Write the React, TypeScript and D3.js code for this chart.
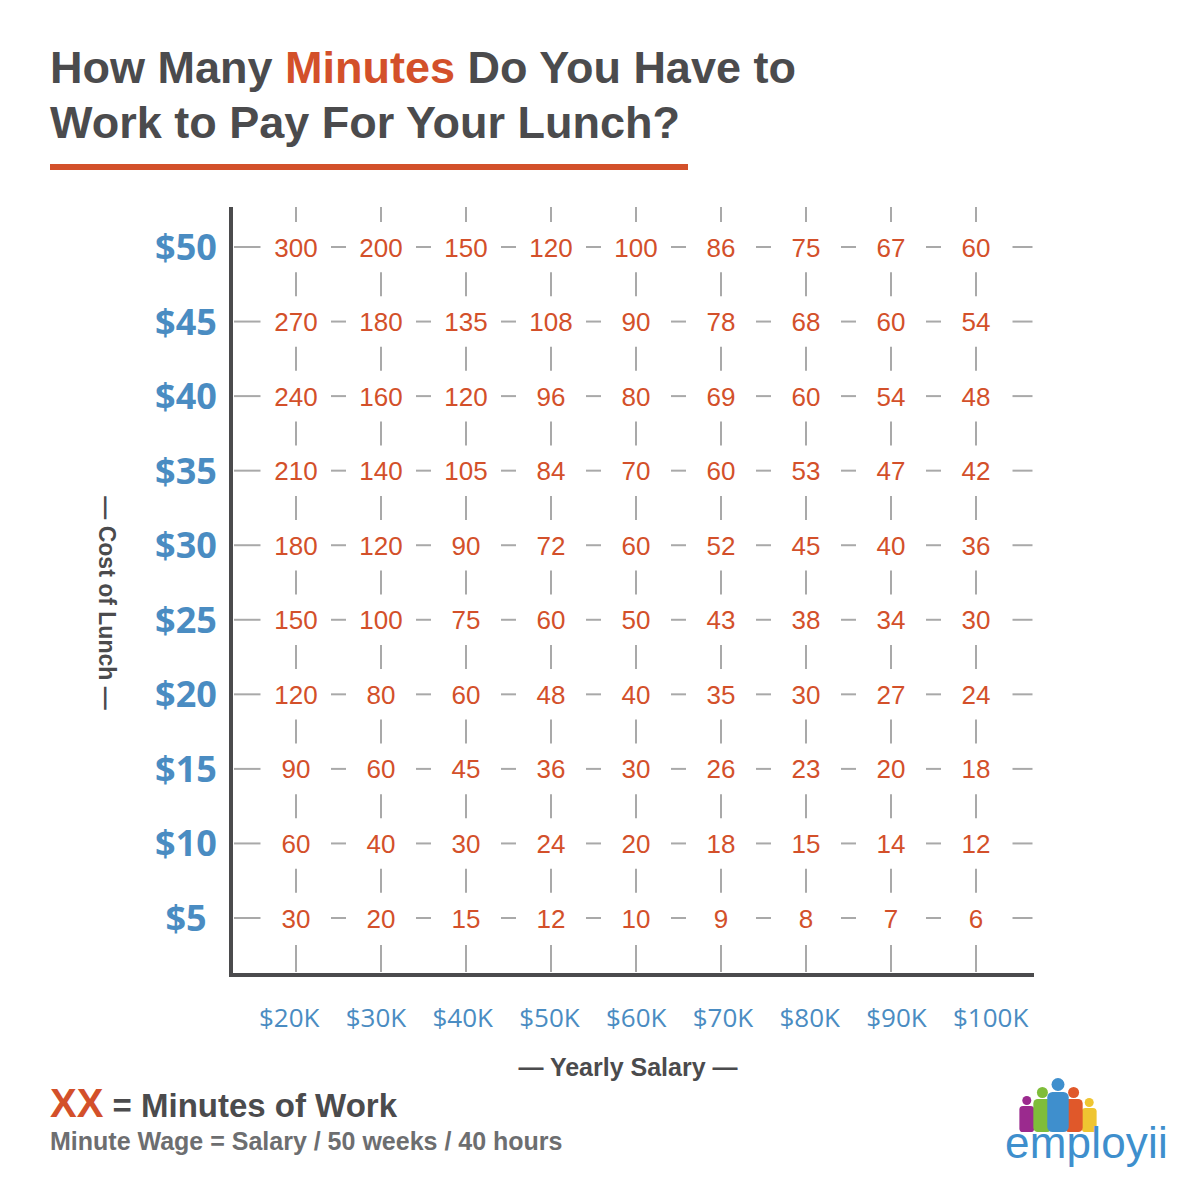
import React, { useEffect } from "react";
import * as d3 from "d3";

// chart values
const salaries = ["$20K", "$30K", "$40K", "$50K", "$60K", "$70K", "$80K", "$90K", "$100K"];
const lunchCosts = ["$50", "$45", "$40", "$35", "$30", "$25", "$20", "$15", "$10", "$5"];

const row50 = [300, 200, 150, 120, 100, 86, 75, 67, 60];
const row45 = [270, 180, 135, 108, 90, 78, 68, 60, 54];
const row40 = [240, 160, 120, 96, 80, 69, 60, 54, 48];
const row35 = [210, 140, 105, 84, 70, 60, 53, 47, 42];
const row30 = [180, 120, 90, 72, 60, 52, 45, 40, 36];
const row25 = [150, 100, 75, 60, 50, 43, 38, 34, 30];
const row20 = [120, 80, 60, 48, 40, 35, 30, 27, 24];
const row15 = [90, 60, 45, 36, 30, 26, 23, 20, 18];
const row10 = [60, 40, 30, 24, 20, 18, 15, 14, 12];
const row5 = [30, 20, 15, 12, 10, 9, 8, 7, 6];

const minutes = [row50, row45, row40, row35, row30, row25, row20, row15, row10, row5];

// logo people (colour, head radius, body height)
const people = [
  { color: "#9b2a8e", r: 4.5, h: 26 },
  { color: "#7fbd3a", r: 5.5, h: 33 },
  { color: "#3f8fcd", r: 6.5, h: 40 },
  { color: "#e0582a", r: 5.5, h: 33 },
  { color: "#efc531", r: 4.5, h: 24 },
];

const DARK = "#4b4b4d";
const ORANGE = "#d3502a";
const BLUE = "#4a8cc2";
const DASH = "#a9a9a9";
const SANS = "'Liberation Sans', Arial, Helvetica, sans-serif";

export default function App() {
  useEffect(() => {
    document.body.style.margin = "0";
  }, []);

  const x = d3.scalePoint<string>().domain(salaries).range([296, 976]);
  const y = d3.scalePoint<string>().domain(lunchCosts).range([247, 918]);
  // salary labels sit on their own slightly wider spacing, left aligned
  const xLabel = d3.scalePoint<string>().domain(salaries).range([259, 953]);
  const stepX = x.step();
  const stepY = y.step();

  const axisX = 231;
  const axisY = 975;
  const axisTop = 207;
  const axisRight = 1034;

  // horizontal dashes between columns, per row
  const hDashes: { x1: number; x2: number; y: number }[] = [];
  lunchCosts.forEach((c) => {
    const yy = y(c)!;
    salaries.forEach((s, i) => {
      const cx = x(s)! - stepX / 2;
      if (i === 0) hDashes.push({ x1: axisX + 3, x2: cx + 7, y: yy });
      else hDashes.push({ x1: cx - 7.5, x2: cx + 7.5, y: yy });
    });
    const last = x(salaries[salaries.length - 1])! + stepX / 2;
    hDashes.push({ x1: last - 6, x2: last + 14, y: yy });
  });

  // vertical dashes between rows, per column
  const vDashes: { x: number; y1: number; y2: number }[] = [];
  salaries.forEach((s) => {
    const xx = x(s)!;
    vDashes.push({ x: xx, y1: y(lunchCosts[0])! - 40, y2: y(lunchCosts[0])! - 25 });
    lunchCosts.forEach((c, i) => {
      if (i === 0) return;
      const mid = y(c)! - stepY / 2;
      vDashes.push({ x: xx, y1: mid - 12, y2: mid + 12 });
    });
    vDashes.push({ x: xx, y1: y(lunchCosts[lunchCosts.length - 1])! + 27, y2: axisY - 3 });
  });

  const logoX = d3.scaleBand<number>().domain(d3.range(people.length)).range([1019, 1097]).padding(0);

  return (
    <svg width={1200} height={1200} style={{ display: "block", background: "#fff" }} fontFamily={SANS}>
      <rect width={1200} height={1200} fill="#fff" />

      {/* title */}
      <text x={50} y={83} fontSize={45} fontWeight="bold" fill={DARK}>
        How Many <tspan fill={ORANGE}>Minutes</tspan> Do You Have to
      </text>
      <text x={50} y={138} fontSize={45} fontWeight="bold" fill={DARK}>
        Work to Pay For Your Lunch?
      </text>
      <rect x={50} y={164} width={638} height={6} fill={ORANGE} />

      {/* grid dashes */}
      <g stroke={DASH} strokeWidth={2}>
        {hDashes.map((d, i) => (
          <line key={"h" + i} x1={d.x1} x2={d.x2} y1={d.y} y2={d.y} />
        ))}
        {vDashes.map((d, i) => (
          <line key={"v" + i} x1={d.x} x2={d.x} y1={d.y1} y2={d.y2} />
        ))}
      </g>

      {/* axes */}
      <line x1={axisX} x2={axisX} y1={axisTop} y2={axisY + 2} stroke={DARK} strokeWidth={4} />
      <line x1={axisX - 2} x2={axisRight} y1={axisY} y2={axisY} stroke={DARK} strokeWidth={4} />

      {/* cell values */}
      <g fontSize={26} fill={ORANGE} textAnchor="middle">
        {minutes.map((row, ri) =>
          row.map((v, ci) => (
            <text key={ri + "-" + ci} x={x(salaries[ci])} y={y(lunchCosts[ri])! + 9.5}>
              {v}
            </text>
          ))
        )}
      </g>

      {/* y tick labels */}
      <g fontFamily="'Open Sans', sans-serif" fontWeight="bold" fontSize={36} fill={BLUE} textAnchor="middle">
        {lunchCosts.map((c) => (
          <text key={c} x={186} y={y(c)! + 13}>
            {c}
          </text>
        ))}
      </g>

      {/* x tick labels */}
      <g fontFamily="'Open Sans', sans-serif" fontSize={26} fill={BLUE} textAnchor="start">
        {salaries.map((s) => (
          <text key={s} x={xLabel(s)} y={1027}>
            {s}
          </text>
        ))}
      </g>

      {/* axis titles */}
      <text
        transform="translate(99,603) rotate(90)"
        textAnchor="middle"
        fontSize={23}
        fontWeight="bold"
        fill={DARK}
      >
        — Cost of Lunch —
      </text>
      <text x={628} y={1076} textAnchor="middle" fontSize={25} fontWeight="bold" fill={DARK}>
        — Yearly Salary —
      </text>

      {/* legend */}
      <text x={50} y={1117} fontWeight="bold" fill={DARK} fontSize={33}>
        <tspan fill={ORANGE} fontSize={40}>XX</tspan> = Minutes of Work
      </text>
      <text x={50} y={1150} fontWeight="bold" fill="#6d6e70" fontSize={25}>
        Minute Wage = Salary / 50 weeks / 40 hours
      </text>

      {/* logo */}
      <g>
        {people
          .map((p, i) => ({ ...p, i }))
          .sort((a, b) => a.r - b.r)
          .map((p) => {
            const cx = logoX(p.i)! + logoX.bandwidth() / 2;
            const w = p.r * 3.3;
            const bottom = 1132;
            return (
              <g key={p.i} fill={p.color}>
                <circle cx={cx} cy={bottom - p.h - p.r - 1} r={p.r} />
                <rect x={cx - w / 2} y={bottom - p.h} width={w} height={p.h} rx={p.r * 0.8} />
              </g>
            );
          })}
        <text x={1005} y={1158} fontSize={44} fill="#3e8fcd" letterSpacing={0.2}>
          employii
        </text>
      </g>
    </svg>
  );
}
